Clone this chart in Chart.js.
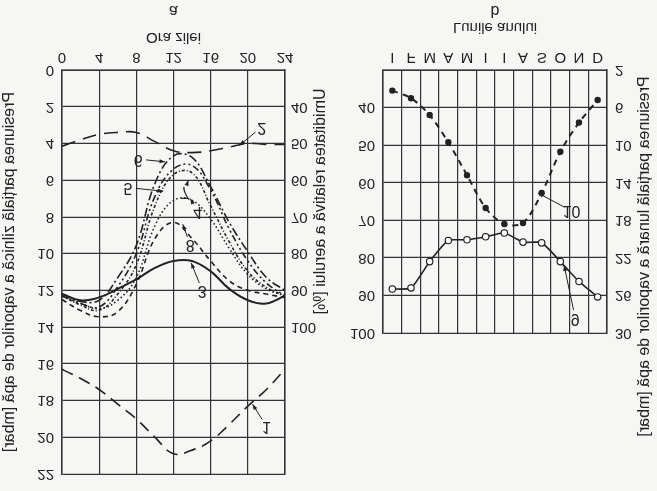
<!DOCTYPE html>
<html>
<head>
<meta charset="utf-8">
<script src="https://cdn.jsdelivr.net/npm/chart.js@4"></script>
<style>
  body { margin: 0; background: #f6f6f4; }
  /* the reference is printed upside down (vertical mirror) */
  #wrap { position: relative; width: 657px; height: 491px; transform: scaleY(-1); }
  #wa { position: absolute; left: 0; top: 0; }
  #wb { position: absolute; left: 311px; top: 0; }
</style>
</head>
<body>
<div id="wrap">
  <div id="wa" style="width:330px;height:491px"><canvas id="chartA"></canvas></div>
  <div id="wb" style="width:346px;height:491px"><canvas id="chartB"></canvas></div>
</div>
<script>
// ---- panel a : daily course ----
const hours = [0, 2, 4, 6, 8, 10, 12, 14, 16, 18, 20, 22, 24];
const press1 = [16.3, 16.8, 17.4, 18.2, 19.0, 20.0, 20.9, 20.7, 20.2, 19.3, 18.3, 17.4, 16.3];
const press2 = [4.15, 3.8, 3.5, 3.4, 3.4, 3.9, 4.4, 4.5, 4.4, 4.2, 4.0, 4.05, 4.05];
const hum3 = [91, 92.7, 91.9, 89.6, 87, 83.9, 82, 82, 84.8, 89.6, 92.7, 93.6, 91.4];
const hum4 = [91.5, 93.5, 95, 92.7, 86.5, 72.4, 65.5, 65.5, 70.6, 78.6, 85.7, 89.6, 91.5];
const hum5 = [91.5, 93.6, 94.5, 89, 80, 64.4, 57, 56, 62.7, 73.3, 82, 88, 91.5];
const hum6 = [91, 93, 92.7, 86.5, 77.7, 60.9, 53.4, 53.8, 61.8, 71.5, 79.5, 86.5, 90];
const hum7 = [91.5, 94, 95.4, 91, 83, 67, 58.5, 58, 67, 76.8, 84.8, 89.2, 91.5];
const hum8 = [92.5, 95.5, 97.2, 95.8, 88.3, 75.9, 71.5, 75.9, 82, 87.4, 90, 91, 92];
const humTicksA = [40, 50, 60, 70, 80, 90, 100];

// ---- panel b : yearly course ----
const months = ['I', 'F', 'M', 'A', 'M', 'I', 'I', 'A', 'S', 'O', 'N', 'D'];
const hum9 = [88.3, 88, 81, 75.4, 75.2, 74.4, 73.4, 75.8, 76, 81, 86.3, 90.4];
const press10 = [4.2, 5.0, 6.8, 9.7, 13.2, 16.7, 18.4, 18.3, 15.1, 10.7, 7.6, 5.2];
const pressTicksB = [2, 6, 10, 14, 18, 22, 26, 30];

// curve numbers: [text, label x, label y, arrow x, arrow y, axis]
const notesA = [
  ['1', 22, 19.4, 20.5, 18.2, 'y'],
  ['2', 21.5, 3.1, 19.1, 4.1, 'y'],
  ['6', 8.2, 4.85, 11.1, 5.0, 'y'],
  ['5', 7.1, 6.4, 10.9, 6.6, 'y'],
  ['7', 13.2, 6.6, 13.6, 6.0, 'y'],
  ['4', 14.6, 7.7, 13.8, 7.0, 'y'],
  ['8', 13.8, 9.5, 13.0, 8.4, 'y'],
  ['3', 15.1, 12.0, 13.9, 10.5, 'y']
];
const notesB = [
  ['10', 9.6, 17.0, 7.8, 15.1, 'y2'],
  ['9', 9.8, 96, 9.2, 82, 'y']
];

const FONT = { family: 'Liberation Sans', size: 15 };
const INK = '#222';
Chart.defaults.color = INK;
Chart.defaults.font = FONT;

function line(data, dash, yAxis, extra) {
  return Object.assign({
    data: data, borderColor: INK, borderWidth: 1.6, borderDash: dash,
    pointRadius: 0, tension: 0.4, fill: false, yAxisID: yAxis
  }, extra || {});
}

const notesPlugin = {
  id: 'notes',
  afterDatasetsDraw(chart, args, opts) {
    const ctx = chart.ctx, x = chart.scales.x;
    ctx.save();
    ctx.fillStyle = INK; ctx.strokeStyle = INK; ctx.lineWidth = 1;
    ctx.font = '16px Liberation Sans';
    ctx.textAlign = 'center'; ctx.textBaseline = 'middle';
    opts.list.forEach(n => {
      const ys = chart.scales[n[5]];
      const lx = x.getPixelForValue(n[1]), ly = ys.getPixelForValue(n[2]);
      const ax = x.getPixelForValue(n[3]), ay = ys.getPixelForValue(n[4]);
      ctx.fillText(n[0], lx, ly);
      const ang = Math.atan2(ay - ly, ax - lx);
      const sx = lx + Math.cos(ang) * 8, sy = ly + Math.sin(ang) * 8;
      ctx.beginPath(); ctx.moveTo(sx, sy); ctx.lineTo(ax, ay); ctx.stroke();
      ctx.beginPath();
      ctx.moveTo(ax, ay);
      ctx.lineTo(ax - 6 * Math.cos(ang - 0.35), ay - 6 * Math.sin(ang - 0.35));
      ctx.lineTo(ax - 6 * Math.cos(ang + 0.35), ay - 6 * Math.sin(ang + 0.35));
      ctx.closePath(); ctx.fill();
    });
    // panel letter
    ctx.fillText(opts.letter, (chart.chartArea.left + chart.chartArea.right) / 2, chart.height - 10);
    // rotated right title (reads like the left ones)
    if (opts.rightTitle) {
      ctx.translate(chart.chartArea.right + 38, (chart.chartArea.top + chart.chartArea.bottom) / 2 - 55);
      ctx.rotate(-Math.PI / 2);
      ctx.fillText(opts.rightTitle, 0, 0);
    }
    ctx.restore();
  }
};

const gridStyle = { color: '#333', lineWidth: 1.2, drawTicks: false };

new Chart(document.getElementById('chartA'), {
  type: 'line',
  data: {
    datasets: [
      line(hours.map((h, i) => ({ x: h, y: press1[i] })), [12, 7], 'y'),
      line(hours.map((h, i) => ({ x: h, y: press2[i] })), [14, 8], 'y'),
      line(hours.map((h, i) => ({ x: h, y: hum3[i] })), [], 'y2', { borderWidth: 2 }),
      line(hours.map((h, i) => ({ x: h, y: hum4[i] })), [1.5, 2.5], 'y2'),
      line(hours.map((h, i) => ({ x: h, y: hum5[i] })), [7, 3, 2, 3, 2, 3], 'y2'),
      line(hours.map((h, i) => ({ x: h, y: hum6[i] })), [9, 3, 2, 3], 'y2'),
      line(hours.map((h, i) => ({ x: h, y: hum7[i] })), [3, 2, 1, 2], 'y2'),
      line(hours.map((h, i) => ({ x: h, y: hum8[i] })), [5, 4], 'y2')
    ]
  },
  options: {
    responsive: true, maintainAspectRatio: false, animation: false,
    layout: { padding: { top: 13 } },
    plugins: {
      legend: { display: false }, tooltip: { enabled: false },
      notes: { list: notesA, letter: 'a' }
    },
    scales: {
      x: {
        type: 'linear', min: 0, max: 24,
        ticks: { stepSize: 4, padding: 4 },
        grid: gridStyle, border: { color: '#333', width: 1.5 },
        title: { display: true, text: 'Ora zilei', font: FONT, padding: { top: 0, bottom: 28 } },
        afterFit: s => { s.height = 70; }
      },
      y: {
        min: 0, max: 22,
        ticks: { stepSize: 2, padding: 8 },
        grid: gridStyle, border: { color: '#333', width: 1.5 },
        title: { display: true, text: 'Presiunea parțială zilnică a vaporilor de apă [mbar]', font: { family: 'Liberation Sans', size: 16 }, padding: 0 },
        afterFit: s => { s.width = 62; }
      },
      y2: {
        position: 'right', min: 30, max: 140,
        afterBuildTicks: s => { s.ticks = humTicksA.map(v => ({ value: v })); },
        ticks: { padding: 6 },
        grid: { display: false, drawTicks: false }, border: { color: '#333', width: 1.5 },
        afterFit: s => { s.width = 45; }
      }
    }
  },
  plugins: [notesPlugin]
});

new Chart(document.getElementById('chartB'), {
  type: 'line',
  data: {
    labels: months,
    datasets: [
      line(hum9, [], 'y', { tension: 0.2, pointRadius: 3.2, pointBackgroundColor: '#fff', pointBorderColor: INK, pointBorderWidth: 1.2 }),
      line(press10, [6, 5], 'y2', { borderWidth: 2, tension: 0.3, pointRadius: 2.2, pointBackgroundColor: INK, pointBorderColor: INK })
    ]
  },
  options: {
    responsive: true, maintainAspectRatio: false, animation: false,
    layout: { padding: { top: 158 } },
    plugins: {
      legend: { display: false }, tooltip: { enabled: false },
      notes: { list: notesB, letter: 'b', rightTitle: 'Presiunea parțială lunară a vaporilor de apă [mbar]' }
    },
    scales: {
      x: {
        type: 'category', offset: true,
        ticks: { padding: 4 },
        grid: Object.assign({ offset: true }, gridStyle), border: { color: '#333', width: 1.5 },
        title: { display: true, text: 'Lunile anului', font: FONT, padding: { top: 0, bottom: 18 } },
        afterFit: s => { s.height = 70; }
      },
      y: {
        min: 30, max: 100,
        ticks: { stepSize: 10, padding: 8, callback: v => v === 30 ? '' : v },
        grid: gridStyle, border: { color: '#333', width: 1.5 },
        title: { display: true, text: 'Umiditatea relativă a aerului [%]', font: { family: 'Liberation Sans', size: 16 }, padding: 0 },
        afterFit: s => { s.width = 72; }
      },
      y2: {
        position: 'right', min: 2, max: 30,
        afterBuildTicks: s => { s.ticks = pressTicksB.map(v => ({ value: v })); },
        ticks: { padding: 8 },
        grid: { display: false, drawTicks: false }, border: { color: '#333', width: 1.5 },
        afterFit: s => { s.width = 50; }
      }
    }
  },
  plugins: [notesPlugin]
});
</script>
</body>
</html>
